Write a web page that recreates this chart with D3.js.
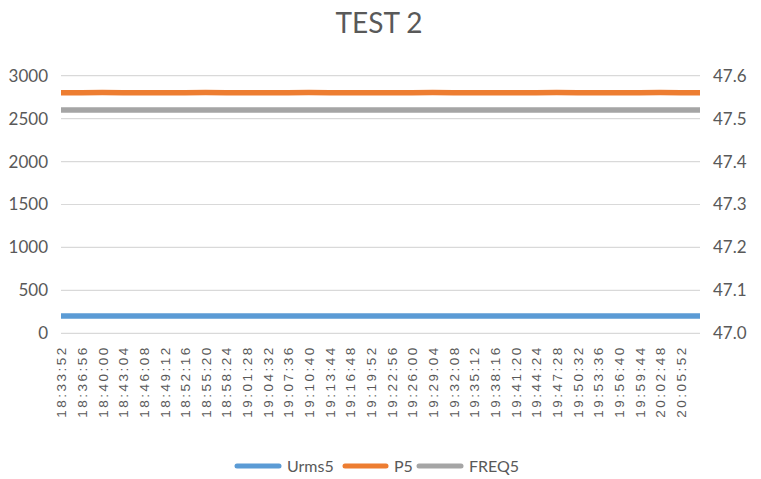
<!DOCTYPE html>
<html><head><meta charset="utf-8">
<script src="https://cdn.jsdelivr.net/npm/d3@7"></script>
<style>
html,body{margin:0;padding:0;background:#fff;}
svg{display:block;}
</style></head>
<body>
<svg id="chart" width="761" height="479"></svg>
<script>
const title = "TEST 2";
const times = ["18:33:52","18:36:56","18:40:00","18:43:04","18:46:08","18:49:12","18:52:16","18:55:20","18:58:24","19:01:28","19:04:32","19:07:36","19:10:40","19:13:44","19:16:48","19:19:52","19:22:56","19:26:00","19:29:04","19:32:08","19:35:12","19:38:16","19:41:20","19:44:24","19:47:28","19:50:32","19:53:36","19:56:40","19:59:44","20:02:48","20:05:52","20:08:44"];
const tickLabels = times.slice(0, 31);
const urms5 = [201,201,201,201,201,201,201,201,201,201,201,201,201,201,201,201,201,201,201,201,201,201,201,201,201,201,201,201,201,201,201,201];
const p5 = [2802,2802,2803,2802,2802,2802,2802,2803,2802,2802,2802,2802,2803,2802,2802,2802,2802,2802,2803,2802,2802,2802,2802,2802,2803,2802,2802,2802,2802,2803,2802,2802];
const freq5 = [47.52,47.52,47.52,47.52,47.52,47.52,47.52,47.52,47.52,47.52,47.52,47.52,47.52,47.52,47.52,47.52,47.52,47.52,47.52,47.52,47.52,47.52,47.52,47.52,47.52,47.52,47.52,47.52,47.52,47.52,47.52,47.52];
const leftTicks = [0,500,1000,1500,2000,2500,3000];
const rightTicks = [47.0,47.1,47.2,47.3,47.4,47.5,47.6];
const seriesNames = ["Urms5","P5","FREQ5"];
const colors = ["#5b9bd5","#ed7d31","#a5a5a5"];

const parse = d3.timeParse("%H:%M:%S");
const svg = d3.select("#chart");
const L = 61, R = 700, T = 75.7, B = 333.3;
const x = d3.scaleTime().domain([parse(times[0]), parse(times[times.length-1])]).range([L, R]);
const yL = d3.scaleLinear().domain([0, 3000]).range([B, T]);
const yR = d3.scaleLinear().domain([47.0, 47.6]).range([B, T]);
const textColor = "#595959";
const font = "Lato, 'Open Sans', sans-serif";

svg.append("text").attr("x", 379).attr("y", 33).attr("text-anchor", "middle")
  .attr("font-family", font).attr("font-size", 28).attr("fill", textColor).text(title);

// gridlines
svg.append("g").selectAll("line").data(leftTicks).join("line")
  .attr("x1", L).attr("x2", R).attr("y1", d => yL(d)).attr("y2", d => yL(d))
  .attr("stroke", "#d9d9d9").attr("stroke-width", 1.2);

// left axis
const gl = svg.append("g").attr("transform", `translate(${L},0)`)
  .call(d3.axisLeft(yL).tickValues(leftTicks).tickSize(0).tickPadding(13).tickFormat(d3.format("d")));
gl.select(".domain").remove();
gl.selectAll("text").attr("font-family", font).attr("font-size", 17).attr("fill", textColor);

// right axis
const gr = svg.append("g").attr("transform", `translate(${R},0)`)
  .call(d3.axisRight(yR).tickValues(rightTicks).tickSize(0).tickPadding(13).tickFormat(d3.format(".1f")));
gr.select(".domain").remove();
gr.selectAll("text").attr("font-family", font).attr("font-size", 17).attr("fill", textColor);

// x axis labels
const gx = svg.append("g").attr("transform", `translate(0,${B})`)
  .call(d3.axisBottom(x).tickValues(tickLabels.map(parse)).tickSize(0).tickFormat(d3.timeFormat("%H:%M:%S")));
gx.select(".domain").remove();
gx.selectAll("text")
  .attr("font-family", "'Liberation Sans', Arial, sans-serif").attr("font-size", 13.5).attr("fill", textColor)
  .attr("letter-spacing", "2.5px")
  .attr("text-anchor", "end").attr("dy", "0.35em")
  .attr("transform", "translate(0,12) rotate(-90)")
  .attr("x", 0).attr("y", 0);

// lines
const series = [
  {vals: urms5, scale: yL},
  {vals: p5, scale: yL},
  {vals: freq5, scale: yR}
];
series.forEach((s, i) => {
  const line = d3.line().x((d, j) => x(parse(times[j]))).y(d => s.scale(d));
  svg.append("path").datum(s.vals).attr("d", line).attr("fill", "none")
    .attr("stroke", colors[i]).attr("stroke-width", 5.5);
});

// legend
const legendItems = [
  {x1: 235, x2: 281, tx: 287},
  {x1: 343, x2: 388, tx: 394},
  {x1: 417, x2: 463, tx: 469}
];
const lg = svg.append("g");
seriesNames.forEach((n, i) => {
  const it = legendItems[i];
  lg.append("line").attr("x1", it.x1 + 2).attr("x2", it.x2 - 2).attr("y1", 466).attr("y2", 466)
    .attr("stroke", colors[i]).attr("stroke-width", 5).attr("stroke-linecap", "round");
  lg.append("text").attr("x", it.tx).attr("y", 466).attr("dy", "0.35em")
    .attr("font-family", font).attr("font-size", 16).attr("fill", textColor).text(n);
});
</script>
</body></html>
